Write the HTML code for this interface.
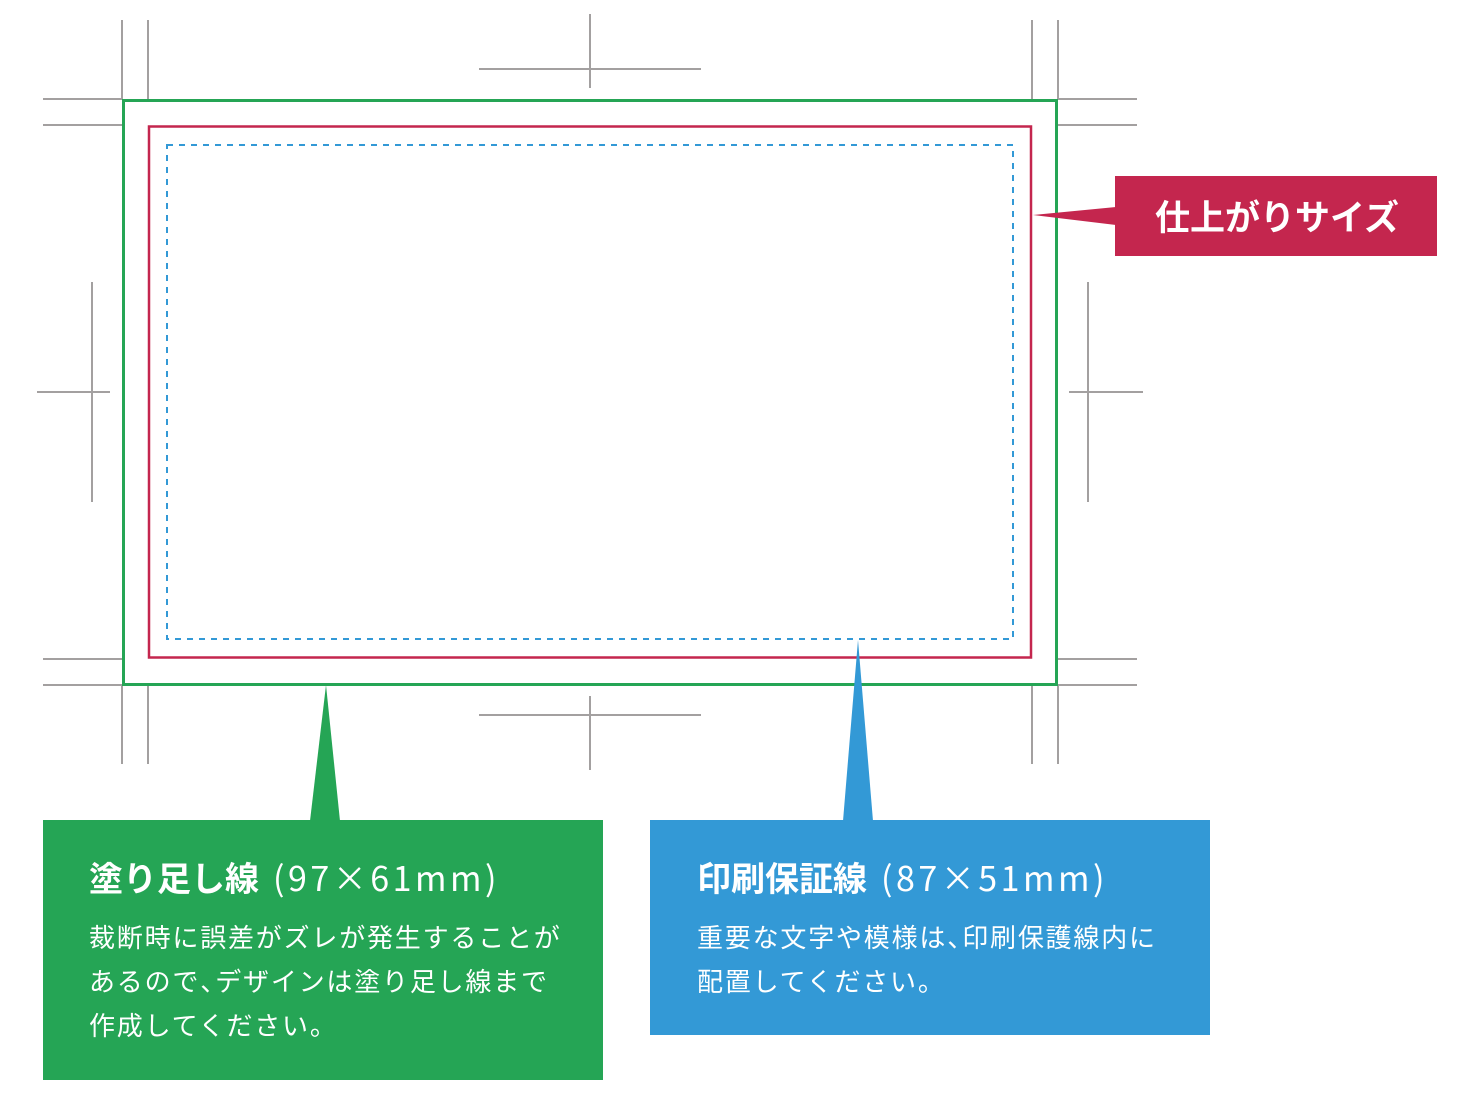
<!DOCTYPE html>
<html><head><meta charset="utf-8">
<style>
html,body{margin:0;padding:0;background:#fff;}
body{width:1460px;height:1100px;position:relative;overflow:hidden;font-family:"Noto Sans CJK JP",sans-serif;}
svg{position:absolute;left:0;top:0;}
.t{position:absolute;color:#fff;white-space:nowrap;}
.title{font-size:34px;line-height:40px;}
.title b{font-weight:700;}
.title span{font-weight:400;margin-left:14px;letter-spacing:3.5px;}
.body{font-size:26px;line-height:44px;letter-spacing:1.8px;}
.c{letter-spacing:-11px;}
</style></head><body>
<svg width="1460" height="1100" viewBox="0 0 1460 1100">
<g stroke="#a3a0a0" stroke-width="2" fill="none">
<line x1="122" y1="20" x2="122" y2="100"/><line x1="148" y1="20" x2="148" y2="100"/>
<line x1="43" y1="99" x2="123" y2="99"/><line x1="43" y1="125" x2="123" y2="125"/>
<line x1="1032" y1="20" x2="1032" y2="100"/><line x1="1058" y1="20" x2="1058" y2="100"/>
<line x1="1057" y1="99" x2="1137" y2="99"/><line x1="1057" y1="125" x2="1137" y2="125"/>
<line x1="122" y1="685" x2="122" y2="764"/><line x1="148" y1="685" x2="148" y2="764"/>
<line x1="43" y1="659" x2="123" y2="659"/><line x1="43" y1="685" x2="123" y2="685"/>
<line x1="1032" y1="685" x2="1032" y2="764"/><line x1="1058" y1="685" x2="1058" y2="764"/>
<line x1="1057" y1="659" x2="1137" y2="659"/><line x1="1057" y1="685" x2="1137" y2="685"/>
<line x1="590" y1="14" x2="590" y2="88"/><line x1="479" y1="69" x2="701" y2="69"/>
<line x1="590" y1="696" x2="590" y2="770"/><line x1="479" y1="715" x2="701" y2="715"/>
<line x1="92" y1="282" x2="92" y2="502"/><line x1="37" y1="392" x2="110" y2="392"/>
<line x1="1088" y1="282" x2="1088" y2="502"/><line x1="1069" y1="392" x2="1143" y2="392"/>
</g>
<rect x="123.5" y="100.5" width="933" height="584" fill="none" stroke="#25a555" stroke-width="3"/>
<rect x="149" y="126.5" width="882" height="531" fill="none" stroke="#c4264e" stroke-width="2.5"/>
<rect x="167" y="145" width="846" height="494" fill="none" stroke="#3399d6" stroke-width="2" stroke-dasharray="6 6"/>
<polygon points="1116,207 1116,225 1033,215" fill="#c4264e"/>
<rect x="1115" y="176" width="322" height="80" fill="#c4264e"/>
<polygon points="310,821 340,821 326,685" fill="#25a555"/>
<rect x="43" y="820" width="560" height="260" fill="#25a555"/>
<polygon points="843,821 873,821 858,640" fill="#3399d6"/>
<rect x="650" y="820" width="560" height="215" fill="#3399d6"/>
</svg>
<div class="t" style="left:1155px;top:191px;font-size:35px;line-height:50px;font-weight:700;">仕上がりサイズ</div>
<div class="t title" style="left:89px;top:857px;"><b>塗り足し線</b><span>(97×61mm)</span></div>
<div class="t body" style="left:89px;top:915px;">裁断時に誤差がズレが発生することが<br>あるので<span class="c">、</span>デザインは塗り足し線まで<br>作成してください。</div>
<div class="t title" style="left:697px;top:857px;"><b>印刷保証線</b><span>(87×51mm)</span></div>
<div class="t body" style="left:697px;top:915px;">重要な文字や模様は<span class="c">、</span>印刷保護線内に<br>配置してください。</div>
</body></html>
